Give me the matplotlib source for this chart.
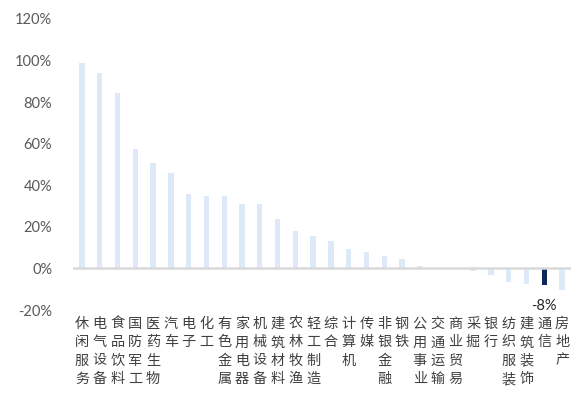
import matplotlib
matplotlib.use('Agg')
import matplotlib.pyplot as plt
from matplotlib.ticker import FuncFormatter

# industry names, ordered by return
industries = ['休闲服务', '电气设备', '食品饮料', '国防军工', '医药生物', '汽车', '电子',
              '化工', '有色金属', '家用电器', '机械设备', '建筑材料', '农林牧渔', '轻工制造',
              '综合', '计算机', '传媒', '非银金融', '钢铁', '公用事业', '交通运输', '商业贸易',
              '采掘', '银行', '纺织服装', '建筑装饰', '通信', '房地产']
# return, percent
returns = [99, 94, 84.5, 57.5, 50.6, 45.8, 36, 34.8, 34.8, 31, 31, 23.6, 18.1, 15.6,
           13.2, 9.5, 7.8, 5.9, 4.6, 1.0, 0.3, 0.1, -1.0, -3.0, -6.5, -7.5, -8.0, -10.5]
highlight = '通信'
yticks = [-20, 0, 20, 40, 60, 80, 100, 120]

light = '#dde9f6'
dark = '#0b2a5c'

fig = plt.figure(figsize=(5.75, 3.94), dpi=100)
ax = fig.add_axes([0.127, 0.213, 0.866, 0.739])

x = list(range(len(industries)))
colors = [dark if name == highlight else light for name in industries]
ax.bar(x, returns, width=0.3, color=colors, zorder=2)
ax.axhline(0, color='#d9d9d9', lw=1.8, zorder=3)

ax.set_xlim(-0.5, len(industries) - 0.5)
ax.set_ylim(-20, 120)
ax.set_yticks(yticks)
ax.yaxis.set_major_formatter(FuncFormatter(lambda v, p: '%d%%' % v))
ax.tick_params(axis='y', length=0, pad=15, labelsize=10.5, labelcolor='#595959')
for lab in ax.get_yticklabels():
    lab.set_fontfamily('Lato')

ax.set_xticks([])
for s in ax.spines.values():
    s.set_visible(False)

# vertical category names below the plot
for i, name in enumerate(industries):
    for j, ch in enumerate(name):
        ax.annotate(ch, xy=(i, 0), xycoords=('data', 'axes fraction'),
                    xytext=(0, -10 - j * 13.2), textcoords='offset points',
                    ha='center', va='center', fontsize=10.2, color='#404040',
                    family=['Noto Sans CJK SC', 'DejaVu Sans'])

# value label for the highlighted industry
k = industries.index(highlight)
ax.annotate('%d%%' % returns[k], xy=(k, returns[k]), xytext=(0, -15),
            textcoords='offset points', ha='center', va='center',
            fontsize=10.5, color='#262626', family='Lato')

fig.savefig('out.png', dpi=100)
